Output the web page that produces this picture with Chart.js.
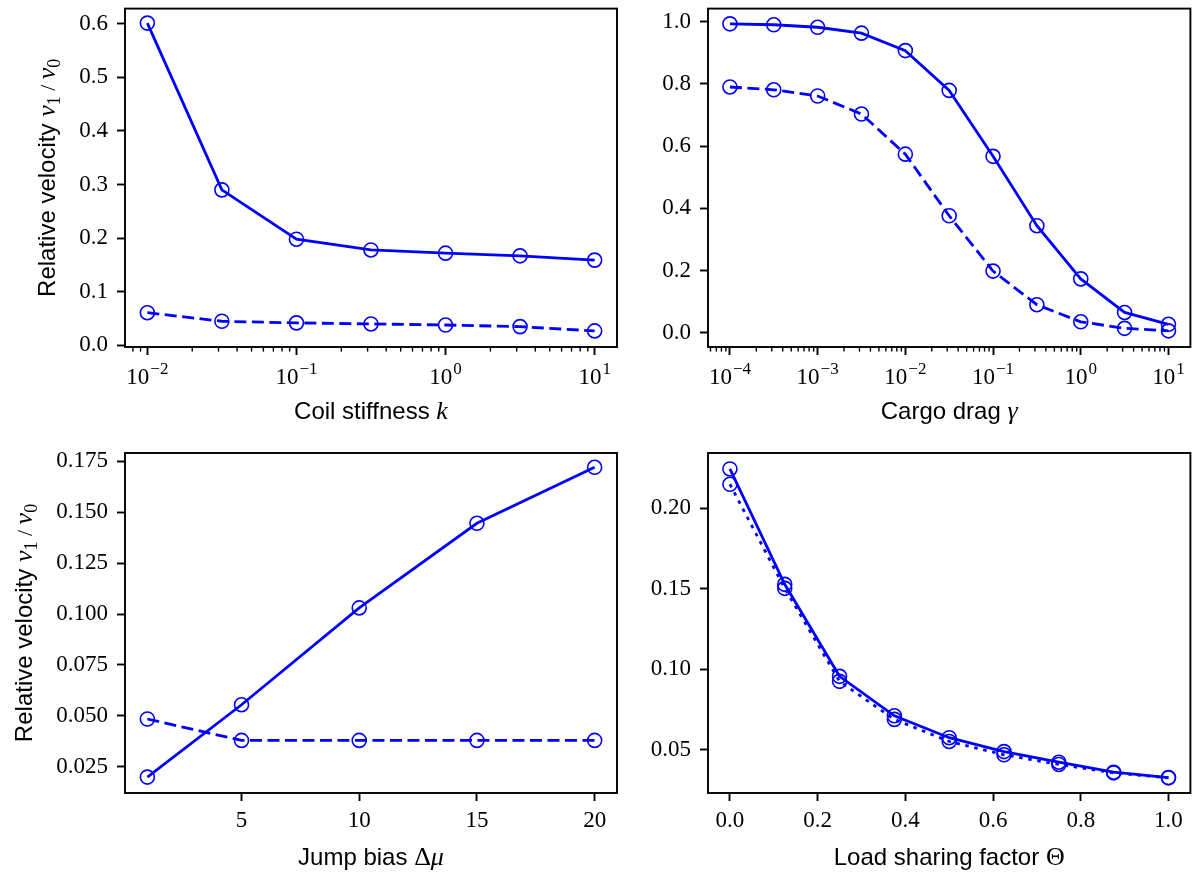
<!DOCTYPE html>
<html>
<head>
<meta charset="utf-8">
<script src="https://cdn.jsdelivr.net/npm/chart.js@4.4.1/dist/chart.umd.min.js"></script>
<style>
  html, body { margin: 0; padding: 0; background: #fff; }
  #fig { position: relative; width: 1199px; height: 876px; overflow: hidden; }
  #fig canvas { position: absolute; }
</style>
</head>
<body>
<div id="fig">
  <canvas id="c1" width="640" height="440" style="left:0;top:0"></canvas>
  <canvas id="c2" width="559" height="440" style="left:640px;top:0"></canvas>
  <canvas id="c3" width="630" height="436" style="left:0;top:440px"></canvas>
  <canvas id="c4" width="569" height="436" style="left:630px;top:440px"></canvas>
</div>
<script>
// values
const coilK = [0.01, 0.0316, 0.1, 0.316, 1, 3.16, 10];
const coilSolid = [0.601, 0.290, 0.198, 0.178, 0.172, 0.167, 0.159];
const coilDashed = [0.061, 0.045, 0.042, 0.040, 0.038, 0.035, 0.027];

const dragGamma = [1e-4, 3.16e-4, 1e-3, 3.16e-3, 1e-2, 3.16e-2, 0.1, 0.316, 1, 3.16, 10];
const dragSolid = [0.993, 0.990, 0.982, 0.963, 0.907, 0.779, 0.567, 0.344, 0.173, 0.065, 0.027];
const dragDashed = [0.790, 0.781, 0.761, 0.703, 0.574, 0.376, 0.198, 0.090, 0.035, 0.014, 0.006];

const jumpBias = [1, 5, 10, 15, 20];
const jumpSolid = [0.020, 0.0555, 0.103, 0.1445, 0.172];
const jumpDashed = [0.0485, 0.038, 0.038, 0.038, 0.038];

const loadTheta = [0, 0.125, 0.25, 0.375, 0.5, 0.625, 0.75, 0.875, 1];
const loadSolid = [0.2244, 0.1528, 0.0957, 0.0712, 0.0576, 0.0490, 0.0424, 0.0362, 0.0329];
const loadDotted = [0.2149, 0.1503, 0.0926, 0.0690, 0.0553, 0.0470, 0.0410, 0.0358, 0.0327];

// tick values
const p1YTicks = [0, 0.1, 0.2, 0.3, 0.4, 0.5, 0.6];
const p2YTicks = [0, 0.2, 0.4, 0.6, 0.8, 1.0];
const p3XTicks = [5, 10, 15, 20];
const p3YTicks = [0.025, 0.05, 0.075, 0.1, 0.125, 0.15, 0.175];
const p4XTicks = [0, 0.2, 0.4, 0.6, 0.8, 1.0];
const p4YTicks = [0.05, 0.1, 0.15, 0.2];

const BLUE = '#0000ff';
const SERIF = "'Liberation Serif', 'DejaVu Serif', serif";
const SANS = "'Liberation Sans', Arial, sans-serif";
const TICK_FONT = 23;
const TITLE_FONT = 24;

function series(xs, ys, dash) {
  return {
    data: xs.map((x, i) => ({ x: x, y: ys[i] })),
    borderColor: BLUE,
    borderWidth: 2.8,
    borderDash: dash || [],
    pointRadius: 7,
    pointBorderWidth: 1.6,
    pointBorderColor: BLUE,
    pointBackgroundColor: 'rgba(0,0,0,0)',
    fill: false,
    tension: 0
  };
}

function fontFor(kind, size) {
  if (kind === 'it') return 'italic ' + size + 'px ' + SERIF;
  if (kind === 'rm') return size + 'px ' + SERIF;
  return size + 'px ' + SANS;
}

// text made of pieces in different fonts, centred on x
function drawRich(ctx, parts, x, y, rot) {
  ctx.save();
  ctx.translate(x, y);
  if (rot) ctx.rotate(rot);
  ctx.textBaseline = 'alphabetic';
  ctx.textAlign = 'left';
  ctx.fillStyle = '#000';
  let w = 0;
  parts.forEach(p => {
    ctx.font = fontFor(p.k, p.s || TITLE_FONT);
    p.w = ctx.measureText(p.t).width;
    w += p.w;
  });
  let cx = -w / 2;
  parts.forEach(p => {
    ctx.font = fontFor(p.k, p.s || TITLE_FONT);
    ctx.fillText(p.t, cx, p.dy || 0);
    cx += p.w;
  });
  ctx.restore();
}

const yTitle = [
  { t: 'Relative velocity ', k: 'sans' },
  { t: 'v', k: 'it', s: 26 }, { t: '1', k: 'rm', s: 18, dy: 5 },
  { t: ' / ', k: 'rm', s: 22 },
  { t: 'v', k: 'it', s: 26 }, { t: '0', k: 'rm', s: 18, dy: 5 }
];

const framePlugin = {
  id: 'frame',
  afterDraw(chart, args, opts) {
    const ctx = chart.ctx;
    const a = chart.chartArea;
    const xs = chart.scales.x;
    ctx.save();
    if (xs.type === 'logarithmic') {
      // minor ticks
      ctx.strokeStyle = '#000';
      ctx.lineWidth = 1.4;
      xs.ticks.forEach(t => {
        if (t.major) return;
        const px = xs.getPixelForValue(t.value);
        ctx.beginPath();
        ctx.moveTo(px, a.bottom);
        ctx.lineTo(px, a.bottom + 4.6);
        ctx.stroke();
      });
      // 10^n labels
      ctx.fillStyle = '#000';
      ctx.textBaseline = 'alphabetic';
      ctx.textAlign = 'left';
      xs.ticks.forEach(t => {
        if (!t.major) return;
        const px = xs.getPixelForValue(t.value);
        const e = Math.round(Math.log10(t.value));
        const ex = e < 0 ? '\u2212' + (-e) : String(e);
        ctx.font = fontFor('rm', TICK_FONT);
        const w1 = ctx.measureText('10').width;
        ctx.font = fontFor('rm', 17);
        const w2 = ctx.measureText(ex).width;
        const x0 = px - (w1 + w2 + 1) / 2;
        const by = a.bottom + 37;
        ctx.font = fontFor('rm', TICK_FONT);
        ctx.fillText('10', x0, by);
        ctx.font = fontFor('rm', 17);
        ctx.fillText(ex, x0 + w1 + 1, by - 10);
      });
    }
    ctx.lineWidth = 1.9;
    ctx.strokeStyle = '#000';
    ctx.strokeRect(a.left, a.top, a.right - a.left, a.bottom - a.top);
    drawRich(ctx, opts.xTitle, (a.left + a.right) / 2, a.bottom + 72);
    if (opts.yGap) drawRich(ctx, yTitle, a.left - opts.yGap, (a.top + a.bottom) / 2, -Math.PI / 2);
    ctx.restore();
  }
};

const tickGrid = { drawOnChartArea: false, drawTicks: true, tickLength: 8, tickWidth: 1.9, tickColor: '#000' };

function fixSize(s, horizontal, size) {
  if (horizontal) s.height = size; else s.width = size;
  s.paddingTop = 0; s.paddingBottom = 0; s.paddingLeft = 0; s.paddingRight = 0;
}

function linAxis(horizontal, min, max, vals, dec, size) {
  return {
    type: 'linear', min: min, max: max,
    afterBuildTicks: s => { s.ticks = vals.map(v => ({ value: v })); },
    afterFit: s => fixSize(s, horizontal, size),
    grid: tickGrid,
    border: { display: false },
    ticks: {
      font: { family: SERIF, size: TICK_FONT }, color: '#000',
      padding: horizontal ? 6 : 9, maxRotation: 0, autoSkip: false,
      callback: v => Number(v).toFixed(dec)
    }
  };
}

function logAxis(min, max, size) {
  return {
    type: 'logarithmic', min: min, max: max,
    afterBuildTicks: s => {
      const out = [];
      for (let e = Math.floor(Math.log10(min)); e <= Math.ceil(Math.log10(max)); e++) {
        for (let m = 1; m < 10; m++) {
          const v = m * Math.pow(10, e);
          if (v >= min && v <= max) out.push({ value: v, major: m === 1 });
        }
      }
      s.ticks = out;
    },
    afterFit: s => fixSize(s, true, size),
    grid: Object.assign({}, tickGrid, {
      tickColor: c => (c.tick && c.tick.major) ? '#000' : 'rgba(0,0,0,0)'
    }),
    border: { display: false },
    ticks: { display: false }
  };
}

function makePanel(id, pad, xAxis, yAxis, datasets, deco) {
  return new Chart(document.getElementById(id), {
    type: 'line',
    data: { datasets: datasets },
    options: {
      responsive: false,
      animation: false,
      events: [],
      layout: { padding: pad },
      plugins: { legend: { display: false }, tooltip: { enabled: false }, frame: deco },
      scales: { x: xAxis, y: yAxis }
    },
    plugins: [framePlugin]
  });
}

makePanel('c1', { top: 6, right: 23, left: 0, bottom: 0 },
  logAxis(Math.pow(10, -2.15), Math.pow(10, 1.15), 93),
  linAxis(false, -0.003, 0.628, p1YTicks, 1, 125),
  [series(coilK, coilSolid), series(coilK, coilDashed, [12, 5.5])],
  { xTitle: [{ t: 'Coil stiffness ', k: 'sans' }, { t: 'k', k: 'it', s: 26 }], yGap: 70 });

makePanel('c2', { top: 6, right: 1, left: 0, bottom: 0 },
  logAxis(Math.pow(10, -4.25), Math.pow(10, 1.25), 93),
  linAxis(false, -0.046, 1.042, p2YTicks, 1, 68),
  [series(dragGamma, dragSolid), series(dragGamma, dragDashed, [12, 5.5])],
  { xTitle: [{ t: 'Cargo drag ', k: 'sans' }, { t: '\u03b3', k: 'it', s: 26 }] });

makePanel('c3', { top: 13, right: 13, left: 0, bottom: 0 },
  linAxis(true, 0.05, 20.95, p3XTicks, 0, 83),
  linAxis(false, 0.0122, 0.179, p3YTicks, 3, 125),
  [series(jumpBias, jumpSolid), series(jumpBias, jumpDashed, [12, 5.5])],
  { xTitle: [{ t: 'Jump bias ', k: 'sans' }, { t: '\u0394', k: 'rm', s: 26 }, { t: '\u03bc', k: 'it', s: 26 }], yGap: 93 });

makePanel('c4', { top: 13, right: 1, left: 0, bottom: 0 },
  linAxis(true, -0.05, 1.05, p4XTicks, 1, 83),
  linAxis(false, 0.0233, 0.2343, p4YTicks, 2, 78),
  [series(loadTheta, loadDotted, [3.5, 5.7]), series(loadTheta, loadSolid)],
  { xTitle: [{ t: 'Load sharing factor ', k: 'sans' }, { t: '\u0398', k: 'rm', s: 26 }] });
</script>
</body>
</html>
